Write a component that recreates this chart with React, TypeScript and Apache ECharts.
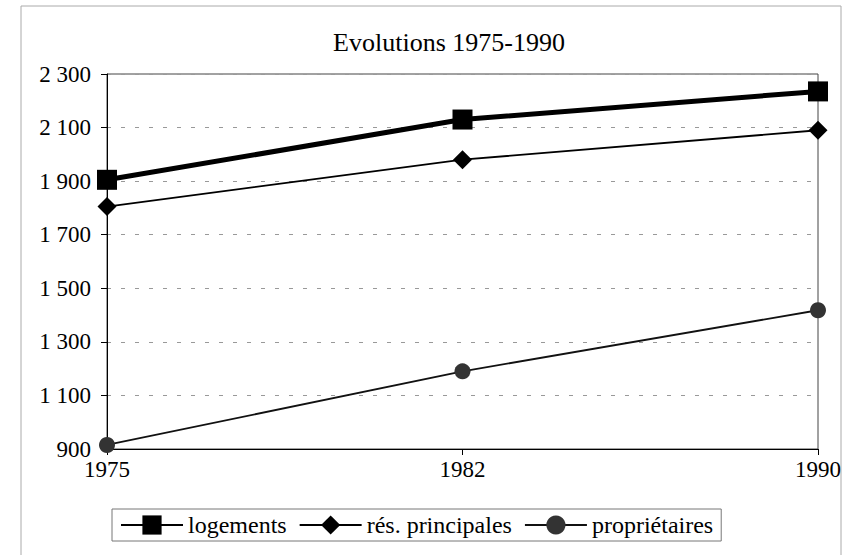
import React, { useEffect, useRef } from "react";
import * as echarts from "echarts";

const years = ["1975", "1982", "1990"];
const logements = [1905, 2130, 2235];
const resPrincipales = [1805, 1980, 2090];
const proprietaires = [915, 1190, 1418];
const seriesNames = ["logements", "rés. principales", "propriétaires"];
const titleText = "Evolutions 1975-1990";

const FONT = "Liberation Serif";

export default function App() {
  const ref = useRef<HTMLDivElement>(null);
  useEffect(() => {
    document.body.style.margin = "0";
    const chart = echarts.init(ref.current!, null, { renderer: "svg" });
    const legendText = { fontFamily: FONT, fontSize: 24, color: "#000" };
    chart.setOption({
      animation: false,
      backgroundColor: "#fff",
      textStyle: { fontFamily: FONT, color: "#000" },
      title: {
        text: titleText,
        left: 444,
        top: 24,
        textAlign: "center",
        textStyle: { fontFamily: FONT, fontSize: 26, fontWeight: "normal", color: "#000" },
      },
      graphic: [
        {
          type: "rect",
          shape: { x: 21, y: 6, width: 820, height: 570 },
          style: { fill: "none", stroke: "#aaa", lineWidth: 1 },
          silent: true,
        },
      ],
      legend: {
        data: seriesNames.map((n) => ({ name: n, textStyle: legendText })),
        left: 112,
        top: 509,
        padding: [4, 8],
        itemGap: 12,
        itemWidth: 62,
        itemHeight: 24,
        borderColor: "#777",
        borderWidth: 1,
        borderRadius: 0,
        textStyle: legendText,
      },
      grid: {
        left: 107,
        right: 34,
        top: 74,
        bottom: 106,
        show: true,
        borderColor: "#444",
        borderWidth: 1,
        outerBoundsMode: "none",
        containLabel: false,
      },
      xAxis: {
        type: "category",
        data: years,
        boundaryGap: false,
        axisLine: { show: true, lineStyle: { color: "#000", width: 1 } },
        axisTick: { show: true, inside: false, length: 6, lineStyle: { color: "#000" } },
        axisLabel: { fontFamily: FONT, fontSize: 23, color: "#000", margin: 9 },
        splitLine: { show: false },
      },
      yAxis: {
        type: "value",
        min: 900,
        max: 2300,
        interval: 200,
        axisLine: { show: true, lineStyle: { color: "#000", width: 1 } },
        axisTick: { show: true, inside: false, length: 6, lineStyle: { color: "#000" } },
        axisLabel: {
          fontFamily: FONT,
          fontSize: 23,
          color: "#000",
          margin: 16,
          formatter: (v: number) => {
            const s = String(Math.round(v));
            return s.length > 3 ? s.slice(0, s.length - 3) + " " + s.slice(-3) : s;
          },
        },
        splitLine: { show: true, lineStyle: { color: "#999", type: [4, 10], width: 1 } },
      },
      series: [
        {
          name: seriesNames[0],
          type: "line",
          data: logements,
          symbol: "rect",
          symbolSize: 20,
          lineStyle: { color: "#000", width: 5 },
          itemStyle: { color: "#000" },
          z: 4,
        },
        {
          name: seriesNames[1],
          type: "line",
          data: resPrincipales,
          symbol: "diamond",
          symbolSize: 19,
          lineStyle: { color: "#000", width: 1.8 },
          itemStyle: { color: "#000" },
          z: 3,
        },
        {
          name: seriesNames[2],
          type: "line",
          data: proprietaires,
          symbol: "circle",
          symbolSize: 16,
          lineStyle: { color: "#111", width: 1.8 },
          itemStyle: { color: "#333" },
          z: 2,
        },
      ],
    });
    return () => chart.dispose();
  }, []);
  return <div ref={ref} style={{ width: 852, height: 555 }} />;
}
